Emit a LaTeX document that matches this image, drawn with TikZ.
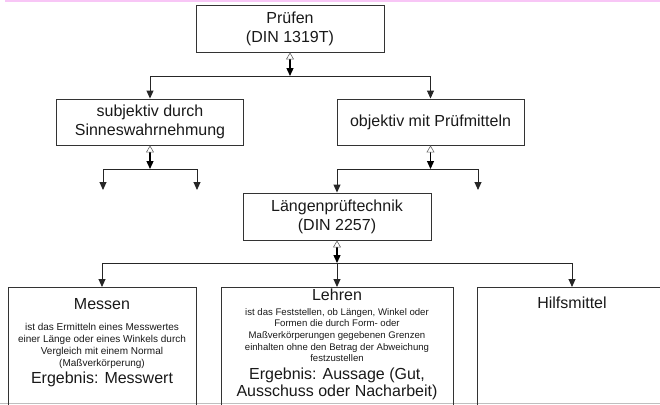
\documentclass[tikz,border=0pt]{standalone}
\usepackage{fontspec}
\setmainfont{Liberation Sans}
\usetikzlibrary{arrows.meta,positioning}
\definecolor{rosa}{RGB}{248,198,246}
\newcommand{\gross}{\fontsize{16}{19}\selectfont}
\newcommand{\kleinA}{\fontsize{10}{12}\selectfont\lineskiplimit-100pt\relax}
\newcommand{\kleinB}{\fontsize{9.6}{11.6}\selectfont\lineskiplimit-100pt\relax}

\begin{document}
\begin{tikzpicture}[x=1pt, y=-1pt,
    kasten/.style={draw=black!80, line width=0.9pt, inner sep=0pt, align=center, text=black!90, font=\gross},
    beschrift/.style={inner sep=0pt, align=center, text=black!90},
    pfeil/.style={draw=black!85, line width=0.9pt, -{Triangle[width=7pt,length=8pt]}},
    doppel/.style={draw=black, line width=1.3pt, {Triangle[width=8pt,length=7pt,fill=white,color=black!60,line width=0.6pt]}-{Triangle[width=7pt,length=8pt]}}]
        % frame
        \useasboundingbox (0,0) rectangle (660,404);
        \clip (0,0) rectangle (660,404);
        \fill[rosa] (5,0) rectangle (660,2);
        \draw[black!25] (0,403.5) -- (660,403.5);
        % boxes
        \node[kasten, minimum width=188pt, minimum height=47pt] (pruefen) at (290,28.5) {Prüfen\\(DIN 1319T)};
        \node[kasten, minimum width=187pt, minimum height=46pt] (subj) at (150,122) {subjektiv durch\\Sinneswahrnehmung};
        \node[kasten, minimum width=187pt, minimum height=46pt] (obj) at (430.5,122) {objektiv mit Prüfmitteln};
        \node[kasten, minimum width=188pt, minimum height=47pt] (laengen) at (337,216.5) {Längenprüftechnik\\(DIN 2257)};
        \node[kasten, minimum width=188pt, minimum height=125pt, anchor=north] (messen) at (102,287) {};
        \node[kasten, minimum width=232pt, minimum height=125pt, anchor=north] (lehren) at (337,287) {};
        \node[kasten, minimum width=190pt, minimum height=125pt, anchor=north] (hilfs) at (572,287) {};
        % texts of the lower boxes
        \node[beschrift, below=11.5pt of messen.north, font=\kleinA] (messentext)
            {{\gross Messen}\\[9pt]
             ist das Ermitteln eines Messwertes\\
             einer Länge oder eines Winkels durch\\
             Vergleich mit einem Normal\\
             (Maßverkörperung)\\[5pt]
             {\gross Ergebnis: Messwert}};
        \node[beschrift, below=2pt of lehren.north, font=\kleinB] (lehrentext)
            {{\gross Lehren}\\[2.9pt]
             ist das Feststellen, ob Längen, Winkel oder\\
             Formen die durch Form- oder\\
             Maßverkörperungen gegebenen Grenzen\\
             einhalten ohne den Betrag der Abweichung\\
             festzustellen\\[6.4pt]
             {\gross Ergebnis: Aussage (Gut,}\\[5.4pt]
             {\gross Ausschuss oder Nacharbeit)}};
        \node[beschrift, below=10pt of hilfs.north, font=\gross] (hilfstext) {Hilfsmittel};
        % junctions
        \coordinate (j1) at (290,76);
        \coordinate (j2) at (150,169);
        \coordinate (j3) at (430.5,169);
        \coordinate (j4) at (337,263);
        \coordinate (s1) at (103,190);
        \coordinate (s2) at (197,190);
        \coordinate (o2) at (478,190);
        % Pruefen
        \path[doppel] (pruefen.south) -- (j1);
        \path[pfeil] (j1) -| (subj.north);
        \path[pfeil] (j1) -| (obj.north);
        % subjektiv
        \path[doppel] (subj.south) -- (j2);
        \path[pfeil] (j2) -| (s1);
        \path[pfeil] (j2) -| (s2);
        % objektiv
        \path[doppel] (obj.south) -- (j3);
        \path[pfeil] (j3) -| (laengen.north);
        \path[pfeil] (j3) -| (o2);
        % Laengenprueftechnik
        \path[doppel] (laengen.south) -- (j4);
        \path[pfeil] (j4) -| (messen.north);
        \path[pfeil] (j4) -- (lehren.north);
        \path[pfeil] (j4) -| (hilfs.north);
    \end{tikzpicture}
\end{document}
